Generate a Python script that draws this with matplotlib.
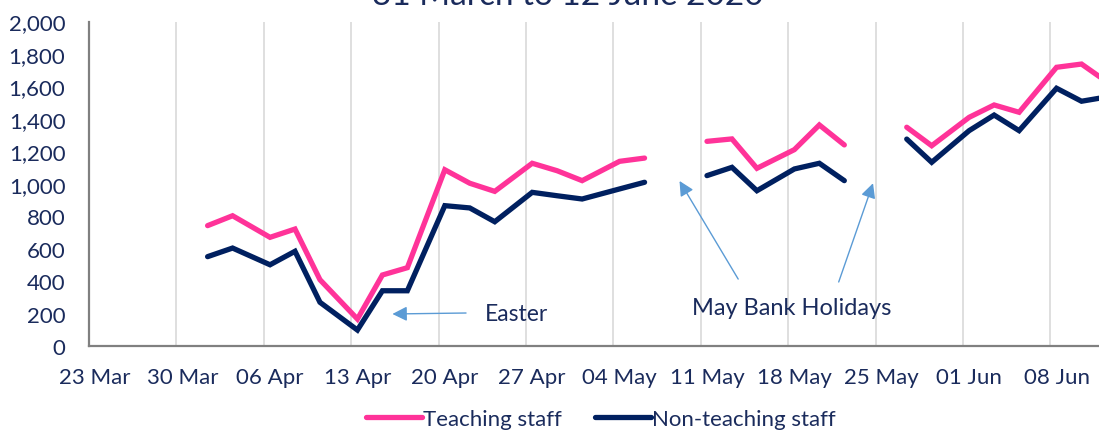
import matplotlib
matplotlib.use("Agg")
import matplotlib.pyplot as plt
import matplotlib.dates as mdates
import numpy as np
import datetime as dt

# survey days (Mon/Wed/Fri), NaN = bank holiday with no return
dates = ["2020-04-01", "2020-04-03", "2020-04-06", "2020-04-08", "2020-04-10",
         "2020-04-13", "2020-04-15", "2020-04-17", "2020-04-20", "2020-04-22",
         "2020-04-24", "2020-04-27", "2020-04-29", "2020-05-01", "2020-05-04",
         "2020-05-06", "2020-05-08", "2020-05-11", "2020-05-13", "2020-05-15",
         "2020-05-18", "2020-05-20", "2020-05-22", "2020-05-25", "2020-05-27",
         "2020-05-29", "2020-06-01", "2020-06-03", "2020-06-05", "2020-06-08",
         "2020-06-10", "2020-06-12"]
teaching = [743, 804, 671, 722, 410, 168, 439, 484, 1087, 1004, 954, 1127, 1081,
            1020, 1139, 1159, np.nan, 1262, 1277, 1096, 1211, 1363, 1240, np.nan,
            1349, 1235, 1410, 1486, 1441, 1718, 1738, 1630]
non_teaching = [552, 605, 502, 585, 271, 100, 342, 342, 866, 852, 767, 948, 927,
                907, 969, 1010, np.nan, 1051, 1102, 958, 1092, 1127, 1020, np.nan,
                1276, 1133, 1328, 1424, 1328, 1589, 1509, 1535]
week_labels = ["23 Mar", "30 Mar", "06 Apr", "13 Apr", "20 Apr", "27 Apr",
               "04 May", "11 May", "18 May", "25 May", "01 Jun", "08 Jun"]

PINK = "#ff3399"
NAVY = "#002060"
TEXT = "#1a2b5c"
ARROW = "#5b9bd5"

plt.rcParams["font.family"] = ["Lato", "DejaVu Sans"]

start = mdates.date2num(dt.datetime(2020, 3, 23))
x = np.array([mdates.date2num(dt.datetime.strptime(d, "%Y-%m-%d")) for d in dates])
x = x + 0.5  # excel puts points in the middle of the day slot
weeks = start + 7 * np.arange(len(week_labels))

fig = plt.figure(figsize=(10.99, 4.31), dpi=100)
ax = fig.add_axes([89 / 1099, 1 - 347.3 / 431, 1 - 89 / 1099, (347.3 - 22.5) / 431])

ax.plot(x, teaching, color=PINK, lw=3.8, solid_capstyle="round",
        solid_joinstyle="miter", label="Teaching staff")
ax.plot(x, non_teaching, color=NAVY, lw=3.8, solid_capstyle="round",
        solid_joinstyle="miter", label="Non-teaching staff")

ax.set_xlim(start, start + 80.9)
ax.set_ylim(0, 2000)
ax.set_yticks(np.arange(0, 2001, 200))
ax.set_yticklabels([f"{v:,}" for v in range(0, 2001, 200)])

ax.set_xticks(weeks)
ax.set_xticklabels([])
ax.set_xticks(weeks + 0.5, minor=True)
ax.set_xticklabels(week_labels, minor=True)
ax.grid(axis="x", which="major", color="#d9d9d9", lw=1.2)
ax.set_axisbelow(True)

ax.tick_params(axis="both", which="both", length=0, labelsize=16, labelcolor=TEXT)
ax.tick_params(axis="y", pad=17)
ax.tick_params(axis="x", which="minor", pad=15)
for s in ["top", "right"]:
    ax.spines[s].set_visible(False)
for s in ["left", "bottom"]:
    ax.spines[s].set_color("#808080")
    ax.spines[s].set_linewidth(1.6)

# annotations
arr = dict(arrowstyle="-|>", color=ARROW, lw=1.0, mutation_scale=22, shrinkA=0, shrinkB=0)
ax.annotate("", xy=(start + 24.3, 199), xytext=(start + 30.2, 205), arrowprops=arr)
ax.text(start + 31.7, 199, "Easter", fontsize=16.5, color=TEXT, va="center", ha="left")
ax.annotate("", xy=(start + 47.3, 1018), xytext=(start + 52.0, 414), arrowprops=arr)
ax.annotate("", xy=(start + 62.8, 1004), xytext=(start + 60.05, 396), arrowprops=arr)
ax.text(start + 56.3, 240, "May Bank Holidays", fontsize=17, color=TEXT,
        va="center", ha="center")

fig.text(568 / 1099, 1 - 5 / 431, "31 March to 12 June 2020", fontsize=24,
         color=TEXT, ha="center", va="baseline")

fig.legend(loc="center", bbox_to_anchor=(601 / 1099, 1 - 420 / 431), ncol=2,
           frameon=False, fontsize=16, labelcolor=TEXT, handlelength=2.5,
           handletextpad=0.05, columnspacing=1.5)

fig.savefig("out.png", dpi=100)
